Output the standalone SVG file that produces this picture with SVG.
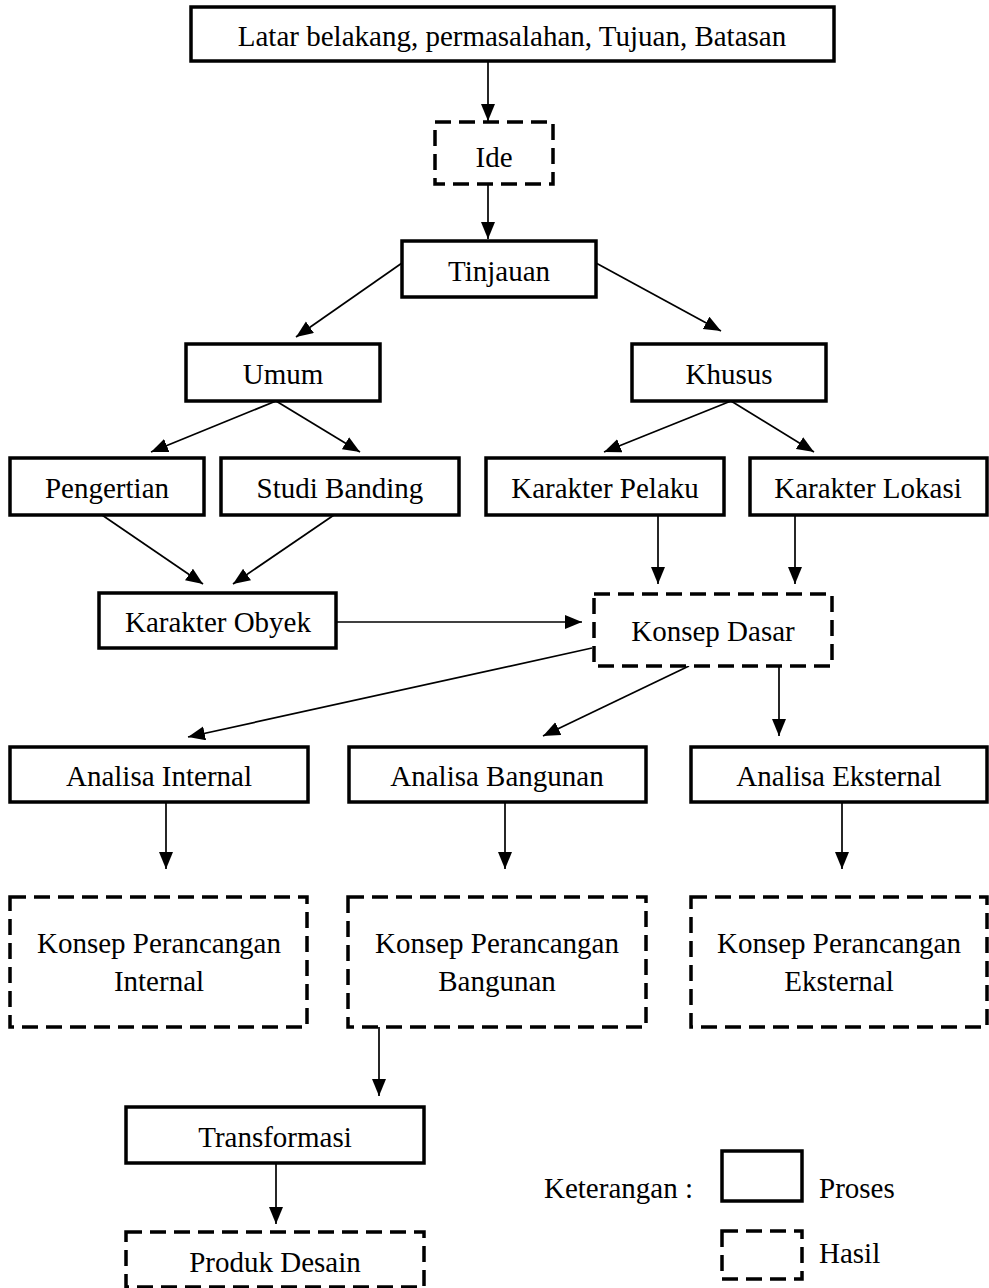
<svg xmlns="http://www.w3.org/2000/svg" width="989" height="1288" viewBox="0 0 989 1288">
<style>
.p{fill:#fff;stroke:#000;stroke-width:3.5}
.h{fill:#fff;stroke:#000;stroke-width:3.5;stroke-dasharray:16 8}
text{font-family:"Liberation Serif","Times New Roman",serif;font-size:29px;fill:#000;text-anchor:middle}
.c line{stroke:#000;stroke-width:1.7;marker-end:url(#ah)}
</style>
<defs>
<marker id="ah" markerUnits="userSpaceOnUse" markerWidth="18" markerHeight="15" refX="17" refY="7" orient="auto">
<path d="M0,0 L17,7 L0,14 z" fill="#000"/>
</marker>
</defs>
<rect width="989" height="1288" fill="#fff"/>
<g class="c" id="connectors">
<line x1="488" y1="61" x2="488" y2="121"/>
<line x1="488" y1="184" x2="488" y2="239"/>
<line x1="402" y1="263" x2="296" y2="337"/>
<line x1="596" y1="263" x2="721" y2="331"/>
<line x1="276" y1="401" x2="151" y2="452"/>
<line x1="276" y1="401" x2="360" y2="452"/>
<line x1="731" y1="401" x2="604" y2="452"/>
<line x1="731" y1="401" x2="814" y2="452"/>
<line x1="102" y1="515" x2="203" y2="584"/>
<line x1="334" y1="515" x2="233" y2="584"/>
<line x1="658" y1="515" x2="658" y2="584"/>
<line x1="795" y1="515" x2="795" y2="584"/>
<line x1="336" y1="622" x2="582" y2="622"/>
<line x1="592" y1="648" x2="188" y2="737"/>
<line x1="689" y1="666" x2="543" y2="736"/>
<line x1="779" y1="666" x2="779" y2="736"/>
<line x1="166" y1="802" x2="166" y2="869"/>
<line x1="505" y1="802" x2="505" y2="869"/>
<line x1="842" y1="802" x2="842" y2="869"/>
<line x1="379" y1="1027" x2="379" y2="1096"/>
<line x1="276" y1="1163" x2="276" y2="1224"/>
</g>
<g id="latar"><rect class="p" x="191" y="7" width="643" height="54"/><text x="512" y="46">Latar belakang, permasalahan, Tujuan, Batasan</text></g>
<g id="ide"><rect class="h" x="435" y="122" width="118" height="62"/><text x="494" y="167">Ide</text></g>
<g id="tinjauan"><rect class="p" x="402" y="241" width="194" height="56"/><text x="499" y="281">Tinjauan</text></g>
<g id="umum"><rect class="p" x="186" y="344" width="194" height="57"/><text x="283" y="384">Umum</text></g>
<g id="khusus"><rect class="p" x="632" y="344" width="194" height="57"/><text x="729" y="384">Khusus</text></g>
<g id="pengertian"><rect class="p" x="10" y="458" width="194" height="57"/><text x="107" y="498">Pengertian</text></g>
<g id="studi"><rect class="p" x="221" y="458" width="238" height="57"/><text x="340" y="498">Studi Banding</text></g>
<g id="pelaku"><rect class="p" x="486" y="458" width="238" height="57"/><text x="605" y="498">Karakter Pelaku</text></g>
<g id="lokasi"><rect class="p" x="750" y="458" width="237" height="57"/><text x="868" y="498">Karakter Lokasi</text></g>
<g id="obyek"><rect class="p" x="99" y="593" width="237" height="55"/><text x="218" y="632">Karakter Obyek</text></g>
<g id="dasar"><rect class="h" x="594" y="594" width="238" height="72"/><text x="713" y="641">Konsep Dasar</text></g>
<g id="a-internal"><rect class="p" x="10" y="747" width="298" height="55"/><text x="159" y="786">Analisa Internal</text></g>
<g id="a-bangunan"><rect class="p" x="349" y="747" width="297" height="55"/><text x="497" y="786">Analisa Bangunan</text></g>
<g id="a-eksternal"><rect class="p" x="691" y="747" width="296" height="55"/><text x="839" y="786">Analisa Eksternal</text></g>
<g id="k-internal"><rect class="h" x="10" y="897" width="297" height="130"/><text x="159" y="953">Konsep Perancangan</text><text x="159" y="991">Internal</text></g>
<g id="k-bangunan"><rect class="h" x="348" y="897" width="298" height="130"/><text x="497" y="953">Konsep Perancangan</text><text x="497" y="991">Bangunan</text></g>
<g id="k-eksternal"><rect class="h" x="691" y="897" width="296" height="130"/><text x="839" y="953">Konsep Perancangan</text><text x="839" y="991">Eksternal</text></g>
<g id="transformasi"><rect class="p" x="126" y="1107" width="298" height="56"/><text x="275" y="1147">Transformasi</text></g>
<g id="produk"><rect class="h" x="126" y="1232" width="298" height="55"/><text x="275" y="1272">Produk Desain</text></g>
<g id="legend">
<text x="544" y="1198" style="text-anchor:start">Keterangan :</text>
<rect class="p" x="722" y="1151" width="80" height="50"/>
<text x="819" y="1198" style="text-anchor:start">Proses</text>
<rect class="h" x="722" y="1231" width="80" height="48"/>
<text x="819" y="1263" style="text-anchor:start">Hasil</text>
</g>
</svg>
